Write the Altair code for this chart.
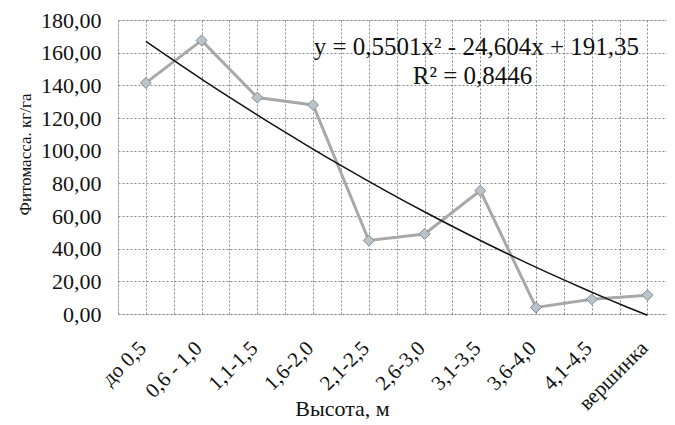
import altair as alt
import pandas as pd

categories = ["до 0,5", "0,6 - 1,0", "1,1-1,5", "1,6-2,0", "2,1-2,5",
              "2,6-3,0", "3,1-3,5", "3,6-4,0", "4,1-4,5", "вершинка"]
values = [141.5, 167.5, 132.5, 128.0, 45.0, 49.0, 75.5, 4.0, 9.0, 11.5]
equation_lines = ["y = 0,5501x² - 24,604x + 191,35", "R² = 0,8446"]
equation_x = [6.93, 6.86]
equation_y = [163.5, 146.0]

df = pd.DataFrame({"x": list(range(1, len(categories) + 1)), "y": values, "cat": categories})
eq = pd.DataFrame({"x": equation_x, "y": equation_y, "t": equation_lines})

FONT = "Liberation Serif"
cat_js = "[" + ",".join("'" + c + "'" for c in categories) + "]"
n = len(categories)
xvals = [i / 2 for i in range(1, 2 * n + 2)]
yvals = list(range(0, 181, 20))

xscale = alt.Scale(domain=[0.5, n + 0.35], nice=False, zero=False)
yscale = alt.Scale(domain=[0, 180], nice=False)

xaxis = alt.Axis(values=xvals, tickCount=len(xvals) + 5,
                 labelExpr=f"datum.value % 1 === 0 ? {cat_js}[datum.value - 1] : ''",
                 labelAngle=-45, labelFont=FONT, labelFontSize=21, labelColor="#111",
                 labelOverlap=False, labelBound=False, labelFlush=False, labelOffset=-11,
                 title="Высота, м", titleFont=FONT, titleFontSize=22, titleFontWeight="normal",
                 titleColor="#111", titleX=224, titleY=101, titleAlign="center",
                 titleBaseline="alphabetic",
                 grid=True, gridColor="#888", gridDash=[2, 2], gridWidth=1,
                 ticks=False, domain=False, labelPadding=23)
yaxis = alt.Axis(values=yvals, tickCount=len(yvals) + 5,
                 labelExpr="replace(format(datum.value, '.2f'), '.', ',')",
                 labelOverlap=False, labelBound=False, labelFlush=False,
                 labelFont=FONT, labelFontSize=22, labelColor="#111",
                 title="Фитомасса. кг/га", titleFont=FONT, titleFontSize=17, titleFontWeight="normal",
                 titleColor="#111", titlePadding=6, titleY=134,
                 grid=True, gridColor="#888", gridDash=[2, 2], gridWidth=1,
                 ticks=False, domain=False, labelPadding=17)

base = alt.Chart(df)

line = base.mark_line(color="#a8a8a8", strokeWidth=3).encode(
    x=alt.X("x:Q", scale=xscale, axis=xaxis),
    y=alt.Y("y:Q", scale=yscale, axis=yaxis),
)
points = base.mark_point(shape="diamond", filled=True, size=120, color="#b8c4cc",
                         stroke="#8a8a8a", strokeWidth=1, opacity=1).encode(
    x="x:Q", y="y:Q")

trend = base.transform_regression("x", "y", method="poly", order=2, extent=[1, n]).mark_line(
    color="#111", strokeWidth=1.5).encode(x="x:Q", y="y:Q")

text = alt.Chart(eq).mark_text(font=FONT, fontSize=25, color="#111").encode(
    x="x:Q", y="y:Q", text="t:N")

chart = alt.layer(line, trend, points, text).properties(
    width=549, height=294, padding={"left": 8, "top": 1, "right": 0, "bottom": 0}
).configure_view(stroke=None).configure(background="white")

chart.save("out.html", embed_options={"renderer": "svg", "actions": False})
